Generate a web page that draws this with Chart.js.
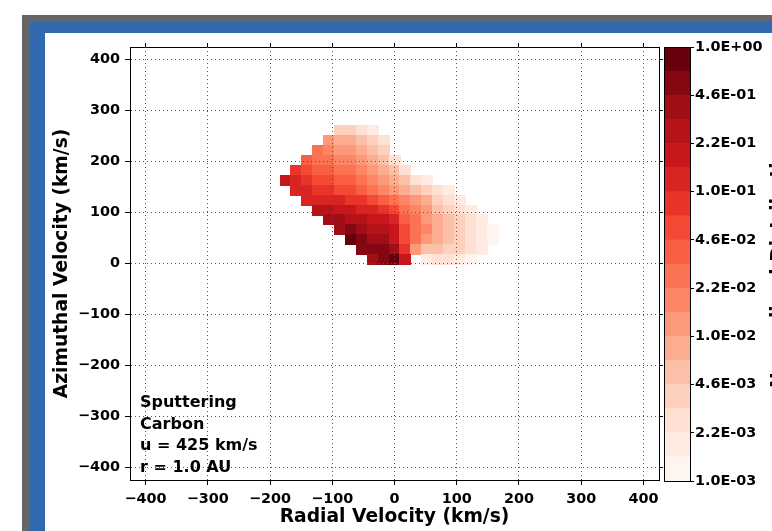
<!DOCTYPE html>
<html>
<head>
<meta charset="utf-8">
<script src="https://cdn.jsdelivr.net/npm/chart.js@4.4.1/dist/chart.umd.min.js"></script>
<style>
  html, body { margin: 0; padding: 0; overflow: hidden; background: #fff; width: 772px; height: 531px; }
  #gray  { position: absolute; left: 22px; top: 15px; width: 800px; height: 600px; background: #666666; }
  #blue  { position: absolute; left: 30px; top: 22px; width: 800px; height: 600px; background: #3169b1; }
  #panel { position: absolute; left: 45px; top: 33px; width: 800px; height: 600px; background: #ffffff; }
  #main  { position: absolute; left: 45px; top: 33px; }
  #cbar  { position: absolute; left: 655px; top: 33px; }
</style>
</head>
<body>
<div id="gray"></div><div id="blue"></div><div id="panel"></div>
<canvas id="main" width="727" height="498"></canvas>
<canvas id="cbar" width="117" height="498"></canvas>
<script>
// velocity bins (km/s): radial left -> right, azimuthal top -> bottom
const vRadial = [-175, -157.5, -140, -122.5, -105, -87.5, -70, -52.5, -35, -17.5, 0,
                 17.5, 35, 52.5, 70, 87.5, 105, 122.5, 140, 157.5, 175];
const vAzimuthal = [261, 241.5, 222, 202.5, 183, 163.5, 144, 124.5, 105, 85.5, 66, 46.5, 27, 8.5];

// contour band of each cell (0 = lowest band ... 17 = top band), null = below 1.0E-03
const n = null;
const bands = [
  [n,n,n,n,n,3,3,2,1,n,n,n,n,n,n,n,n,n,n,n,n],
  [n,n,n,n,6,5,5,4,3,2,n,n,n,n,n,n,n,n,n,n,n],
  [n,n,n,8,7,6,6,5,4,3,n,n,n,n,n,n,n,n,n,n,n],
  [n,n,9,8,8,7,7,6,5,4,2,n,n,n,n,n,n,n,n,n,n],
  [n,11,10,9,9,8,8,7,6,5,4,2,n,n,n,n,n,n,n,n,n],
  [13,12,11,10,10,9,9,8,7,6,5,4,2,1,n,n,n,n,n,n,n],
  [n,12,12,11,11,10,10,9,8,7,6,5,4,3,2,1,n,n,n,n,n],
  [n,n,12,12,12,12,11,11,10,9,8,7,6,5,3,2,1,n,n,n,n],
  [n,n,n,14,14,13,13,12,12,11,10,8,7,6,4,3,2,1,n,n,n],
  [n,n,n,n,15,15,14,14,13,13,12,9,8,6,5,4,3,2,1,n,n],
  [n,n,n,n,n,15,16,15,14,14,13,10,8,7,5,4,3,2,1,0,n],
  [n,n,n,n,n,n,17,16,15,15,13,10,8,6,5,4,3,2,1,0,n],
  [n,n,n,n,n,n,n,16,16,16,15,11,6,4,4,3,3,2,1,n,n],
  [n,n,n,n,n,n,n,n,15,16,17,13,n,1,2,2,1,0,n,n,n]
];

// contour levels (normalized distribution)
const levels = [1.0e-3, 1.468e-3, 2.154e-3, 3.162e-3, 4.642e-3, 6.813e-3, 1.0e-2, 1.468e-2, 2.154e-2, 3.162e-2,
                4.642e-2, 6.813e-2, 1.0e-1, 1.468e-1, 2.154e-1, 3.162e-1, 4.642e-1, 6.813e-1, 1.0];
const cbTicks = [1.0, 0.4642, 0.2154, 0.1, 0.04642, 0.02154, 0.01, 0.004642, 0.002154, 0.001];
const axisTicks = [-400, -300, -200, -100, 0, 100, 200, 300, 400];
const infoLines = ['Sputtering', 'Carbon', 'u = 425 km/s', 'r = 1.0 AU'];

// Reds colormap
const redsStops = [[255,245,240],[254,224,210],[252,187,161],[252,146,114],[251,106,74],
                   [239,59,44],[203,24,29],[165,15,21],[103,0,13]];
function reds(t) {
  const p = t * (redsStops.length - 1);
  const i = Math.min(Math.floor(p), redsStops.length - 2);
  const f = p - i;
  const a = redsStops[i], b = redsStops[i + 1];
  return 'rgb(' + [0,1,2].map(c => Math.round(a[c] + (b[c] - a[c]) * f)).join(',') + ')';
}
const nBands = levels.length - 1;
const palette = [];
for (let i = 0; i < nBands; i++) palette.push(reds(i / (nBands - 1)));

// one filled tile per band, used as point style
const tiles = palette.map(col => {
  const c = document.createElement('canvas');
  c.width = 12; c.height = 11;
  const g = c.getContext('2d');
  g.fillStyle = col;
  g.fillRect(0, 0, 12, 11);
  return c;
});

const cells = [];
bands.forEach((row, j) => row.forEach((b, k) => {
  if (b !== null) cells.push({ x: vRadial[k], y: vAzimuthal[j], b: b });
}));

Chart.defaults.font.family = '"DejaVu Sans", sans-serif';
Chart.defaults.font.weight = 'bold';
Chart.defaults.color = '#000';

const minusFmt = v => (v < 0 ? '\u2212' + (-v) : String(v));
const setTicks = s => { s.ticks = axisTicks.map(v => ({ value: v })); };
const tickFont = { size: 14.4, weight: 'bold' };
const titleFont = { size: 18.7, weight: 'bold' };
const gridDots = { color: '#555', lineWidth: 1, drawTicks: true, tickLength: 5, tickColor: '#000', tickWidth: 1, z: 1 };
const frameBorder = { display: true, color: '#000', width: 1, dash: [1, 3], z: 2 };

const infoText = {
  id: 'infoText',
  afterDraw(chart) {
    const ctx = chart.ctx, a = chart.chartArea;
    ctx.save();
    ctx.font = 'bold 16px "DejaVu Sans"';
    ctx.fillStyle = '#000';
    ctx.textAlign = 'left';
    ctx.textBaseline = 'alphabetic';
    infoLines.forEach((t, i) => ctx.fillText(t, a.left + 10, a.bottom - 73 + i * 21.7));
    ctx.restore();
  }
};

new Chart(document.getElementById('main'), {
  type: 'scatter',
  data: {
    datasets: [{
      data: cells,
      pointStyle: ctx => tiles[ctx.raw ? ctx.raw.b : 0],
      pointRadius: 6,
      borderWidth: 0
    }]
  },
  options: {
    responsive: false,
    animation: false,
    events: [],
    layout: { padding: 0 },
    plugins: { legend: { display: false }, tooltip: { enabled: false } },
    scales: {
      x: {
        type: 'linear', position: 'bottom', min: -425, max: 425,
        afterBuildTicks: setTicks, afterFit: s => { s.height = 51; },
        grid: gridDots, border: frameBorder,
        ticks: { font: tickFont, padding: 6, maxRotation: 0, callback: minusFmt },
        title: { display: true, text: 'Radial Velocity (km/s)', font: titleFont, padding: { top: 0, bottom: 3 } }
      },
      y: {
        type: 'linear', position: 'left', min: -425, max: 425,
        afterBuildTicks: setTicks, afterFit: s => { s.width = 85; },
        grid: gridDots, border: frameBorder,
        ticks: { font: tickFont, padding: 5, callback: minusFmt },
        title: { display: true, text: 'Azimuthal Velocity (km/s)', font: titleFont, padding: { top: 6, bottom: 0 } }
      },
      x2: {
        type: 'linear', position: 'top', min: -425, max: 425,
        afterBuildTicks: setTicks, afterFit: s => { s.height = 14; },
        grid: { drawOnChartArea: false, drawTicks: true, tickLength: 4, tickColor: '#000' },
        border: { display: true, color: '#000', width: 1 },
        ticks: { display: false }
      },
      y2: {
        type: 'linear', position: 'right', min: -425, max: 425,
        afterBuildTicks: setTicks, afterFit: s => { s.width = 113; },
        grid: { drawOnChartArea: false, drawTicks: true, tickLength: 4, tickColor: '#000' },
        border: { display: true, color: '#000', width: 1 },
        ticks: { display: false }
      }
    }
  },
  plugins: [infoText]
});

// colorbar
const fmtE = v => {
  const e = Math.floor(Math.log10(v) + 1e-9);
  const m = v / Math.pow(10, e);
  return m.toFixed(1) + 'E' + (e < 0 ? '-' : '+') + String(Math.abs(e)).padStart(2, '0');
};

const cbFrame = {
  id: 'cbFrame',
  afterDatasetsDraw(chart) {
    const ctx = chart.ctx, a = chart.chartArea;
    ctx.save();
    ctx.strokeStyle = '#000';
    ctx.lineWidth = 1;
    ctx.strokeRect(Math.round(a.left) + 0.5, Math.round(a.top) + 0.5,
                   Math.round(a.right - a.left) - 1, Math.round(a.bottom - a.top));
    ctx.restore();
  }
};
const cbLabel = {
  id: 'cbLabel',
  afterDraw(chart) {
    const ctx = chart.ctx;
    ctx.save();
    ctx.font = 'bold 18.7px "DejaVu Sans"';
    ctx.fillStyle = '#000';
    ctx.translate(128.5, 229);
    ctx.rotate(-Math.PI / 2);
    ctx.textAlign = 'center';
    ctx.textBaseline = 'alphabetic';
    ctx.fillText('Normalized Distribution', 0, 0);
    ctx.restore();
  }
};

new Chart(document.getElementById('cbar'), {
  type: 'bar',
  data: {
    labels: [''],
    datasets: palette.map((col, i) => ({
      data: [[levels[i], levels[i + 1]]],
      backgroundColor: col,
      borderWidth: 0,
      barPercentage: 1,
      categoryPercentage: 1,
      grouped: false
    }))
  },
  options: {
    responsive: false,
    animation: false,
    events: [],
    layout: { padding: { left: 9, top: 14, bottom: 50, right: 0 } },
    plugins: { legend: { display: false }, tooltip: { enabled: false } },
    scales: {
      x: { display: false },
      y: {
        type: 'logarithmic', position: 'right', min: 0.001, max: 1,
        afterBuildTicks: s => { s.ticks = cbTicks.map(v => ({ value: v })); },
        afterFit: s => { s.width = 81; },
        grid: { drawOnChartArea: false, drawTicks: true, tickLength: 3, tickColor: '#000' },
        border: { display: false },
        ticks: { font: tickFont, padding: 1, callback: v => fmtE(v) }
      }
    }
  },
  plugins: [cbFrame, cbLabel]
});
</script>
</body>
</html>
